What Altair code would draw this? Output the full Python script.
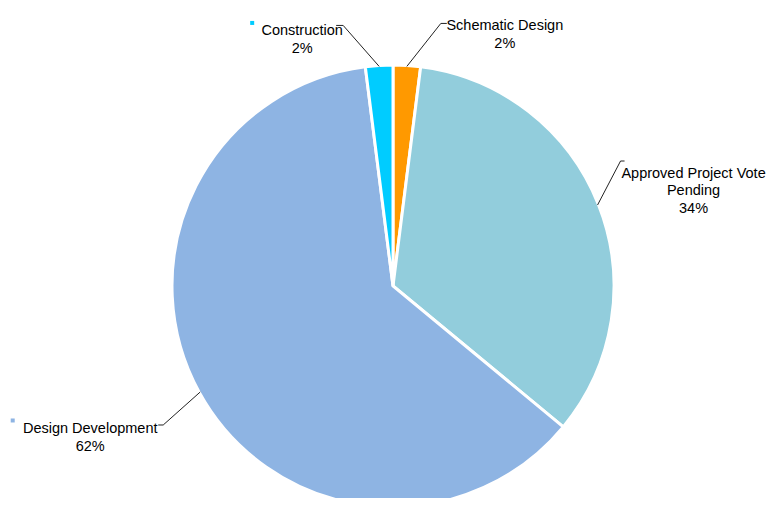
import altair as alt
import pandas as pd

# ---- data ----
categories = ["Schematic Design", "Approved Project Vote Pending", "Design Development", "Construction"]
display_names = ["Schematic Design", "Approved Project Vote|Pending", "Design Development", "Construction"]
values = [1, 17, 31, 1]
colors = ["#FF9900", "#92CDDC", "#8EB4E3", "#00CCFF"]

# ---- layout / style (label placement like manually placed data labels) ----
CX, CY, R = 385, 278, 221
LAYOUT = {
    # elbow offset from slice edge, hook length, text block offset from elbow, marker offset from text
    "Schematic Design":              dict(ex=34, ey=-43, hook=6,  tx=64,  ty=3,    marker=0, mx=0,     my=0),
    "Approved Project Vote Pending": dict(ex=23, ey=-44, hook=4,  tx=73,  ty=12.5, marker=0, mx=0,     my=0),
    "Design Development":            dict(ex=-37, ey=33, hook=-5, tx=-73, ty=4.5,  marker=1, mx=-77.5, my=-9),
    "Construction":                  dict(ex=-36, ey=-41, hook=-7, tx=-41, ty=6,   marker=1, mx=-50,   my=-8.5),
}

rows = []
for i, (c, n, v) in enumerate(zip(categories, display_names, values)):
    r = dict(category=c, name=n, value=v, order=i)
    r.update(LAYOUT[c])
    rows.append(r)
df = pd.DataFrame(rows)

color_scale = alt.Scale(domain=categories, range=colors)

base = (
    alt.Chart(df)
    .transform_joinaggregate(total="sum(value)")
    .transform_window(cum="sum(value)", sort=[alt.SortField("order")], frame=[None, 0])
    .transform_calculate(
        mid="(datum.cum - datum.value/2) / datum.total * 2 * PI",
        sx=f"{CX} + {R - 1} * sin(datum.mid)",
        sy=f"{CY} - {R - 1} * cos(datum.mid)",
    )
    .transform_calculate(
        ex2="datum.sx + datum.ex",
        ey2="datum.sy + datum.ey",
    )
    .transform_calculate(
        hx="datum.ex2 + datum.hook",
        tx2="datum.ex2 + datum.tx",
        ty2="datum.ey2 + datum.ty",
        label="datum.name + '|' + format(datum.value / datum.total, '.0%')",
    )
    .transform_calculate(
        mx2="datum.tx2 + datum.mx",
        my2="datum.ty2 + datum.my",
    )
)

pie = base.mark_arc(radius=R, stroke="white", strokeWidth=3).encode(
    theta=alt.Theta("value:Q", stack=True),
    color=alt.Color("category:N", scale=color_scale, legend=None),
    order=alt.Order("order:Q"),
    x=alt.value(CX),
    y=alt.value(CY),
)

leader1 = base.mark_rule(color="#222222", strokeWidth=1).encode(
    x=alt.X("sx:Q", scale=None, axis=None),
    y=alt.Y("sy:Q", scale=None, axis=None),
    x2="ex2:Q",
    y2="ey2:Q",
)
leader2 = base.mark_rule(color="#222222", strokeWidth=1).encode(
    x=alt.X("ex2:Q", scale=None, axis=None),
    y=alt.Y("ey2:Q", scale=None, axis=None),
    x2="hx:Q",
)

labels = base.mark_text(
    font="Liberation Sans", fontSize=14.5, lineBreak="|", lineHeight=17.5,
    align="center", baseline="middle", color="#000000",
).encode(
    x=alt.X("tx2:Q", scale=None, axis=None),
    y=alt.Y("ty2:Q", scale=None, axis=None),
    text="label:N",
)

markers = base.transform_filter("datum.marker == 1").mark_square(size=16, opacity=1).encode(
    x=alt.X("mx2:Q", scale=None, axis=None),
    y=alt.Y("my2:Q", scale=None, axis=None),
    color=alt.Color("category:N", scale=color_scale, legend=None),
)

chart = (
    alt.layer(pie, leader1, leader2, labels, markers)
    .properties(width=761, height=490, autosize="none", padding=0)
    .configure_view(strokeWidth=0)
)

chart.save("out.html", embed_options={"renderer": "svg", "actions": False})
